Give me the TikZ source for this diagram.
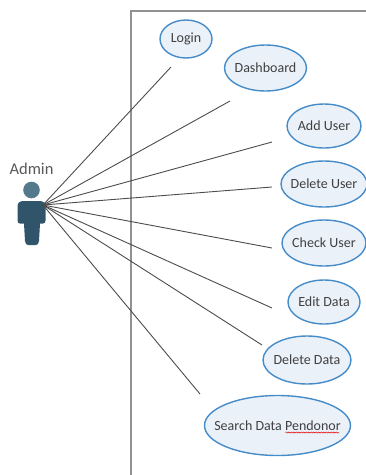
\documentclass[tikz,border=0pt]{standalone}
\usepackage{fontspec}
\setmainfont{Carlito}
\usetikzlibrary{shapes.geometric,decorations.pathmorphing}
\definecolor{ublue}{RGB}{70,140,200}
\definecolor{ufill}{RGB}{234,241,249}
\definecolor{utext}{RGB}{64,64,64}
\definecolor{uframe}{RGB}{145,145,145}
\definecolor{ubody}{RGB}{48,84,106}
\definecolor{uhead}{RGB}{82,122,138}
\newcommand{\uctext}[1]{\makebox[0pt]{#1}}
\tikzset{
  usecase/.style={ellipse,draw=ublue,fill=ufill,line width=1.4pt,inner sep=0pt,text=utext,font=\fontsize{14}{16}\selectfont},
  link/.style={draw=black!70,line width=0.9pt},
  frameline/.style={draw=uframe,line width=1.3pt}
}
\begin{document}
\begin{tikzpicture}[x=1pt,y=-1pt]
\useasboundingbox (0,0) rectangle (366,475);
\coordinate (fa) at (131,475);
\coordinate (fb) at (131,11);
\coordinate (fc) at (366,11);
\draw[frameline] (fa) -- (fb) -- (fc);
\node[usecase,minimum width=52pt,minimum height=38pt] (login) at (186,39) {\uctext{Login}};
\node[usecase,minimum width=82pt,minimum height=46pt] (dash) at (265.5,68) {\uctext{Dashboard}};
\node[usecase,minimum width=74pt,minimum height=44pt] (add) at (324,126) {\uctext{Add User}};
\node[usecase,minimum width=86pt,minimum height=46pt] (deluser) at (324,184) {\uctext{Delete User}};
\node[usecase,minimum width=84pt,minimum height=46pt] (check) at (324,243) {\uctext{Check User}};
\node[usecase,minimum width=72pt,minimum height=44pt] (edit) at (324,302) {\uctext{Edit Data}};
\node[usecase,minimum width=88pt,minimum height=48pt] (deldata) at (307,360) {\uctext{Delete Data}};
\node[usecase,minimum width=146pt,minimum height=60pt] (search) at (277.5,425.5) {\uctext{Search Data Pendonor}};
\draw[red!90!black,line width=0.5pt,decorate,decoration={snake,amplitude=0.6pt,segment length=2.5pt}] (285.5,432.5) -- (339,432.5);
\node[text=black!65,font=\fontsize{16.5}{18}\selectfont,inner sep=0pt] (adminlabel) at (31.5,169) {Admin};
% actor
\fill[uhead] (31.5,190) circle (8.3);
\fill[ubody] (23,201) .. controls (19,201.5) and (17.5,203) .. (17.5,207) -- (17.5,220.5) .. controls (17.5,222.5) and (18.5,223.5) .. (20,223.5) -- (24,223.5) -- (25,241) .. controls (25.2,243.5) and (26.5,245) .. (28,245) -- (36,245) .. controls (37.5,245) and (38.8,243.5) .. (39,241) -- (40,223.5) -- (43,223.5) .. controls (44.5,223.5) and (45.5,222.5) .. (45.5,220.5) -- (45.5,207) .. controls (45.5,203) and (44,201.5) .. (40,201) -- cycle;
\coordinate (hub) at (43,205);
\coordinate (e1) at (171,67);
\coordinate (e2) at (230,101);
\coordinate (e3) at (272,142);
\coordinate (e4) at (272,187);
\coordinate (e5) at (272,248);
\coordinate (e6) at (272,308);
\coordinate (e7) at (262,345);
\coordinate (e8) at (200,394);
\foreach \e in {e1,e2,e3,e4,e5,e6,e7,e8} \draw[link] (hub) -- (\e);
\end{tikzpicture}
\end{document}
